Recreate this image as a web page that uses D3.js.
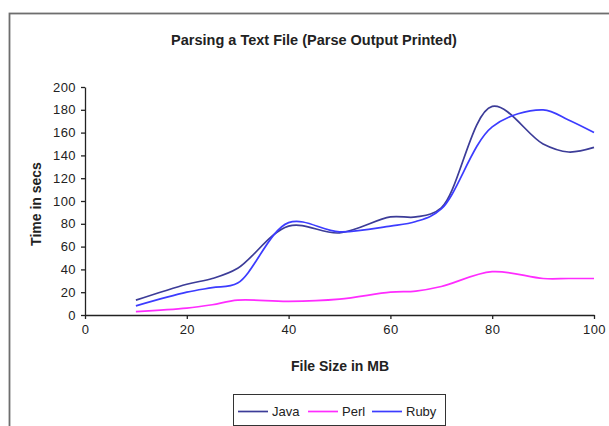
<!DOCTYPE html>
<html>
<head>
<meta charset="utf-8">
<script src="https://cdn.jsdelivr.net/npm/d3@7"></script>
<style>
  body { margin: 0; background: #fff; }
  svg { display: block; }
  text { font-family: Arial, "Liberation Sans", sans-serif; fill: #222; }
</style>
</head>
<body>
<script>
// file sizes in MB
var sizes = [10, 20, 25, 30, 40, 50, 60, 65, 70, 80, 90, 95, 100];
// time in secs
var java = [13, 27, 32, 41, 78, 72, 86, 86, 94, 183, 150, 143, 147];
var perl = [3, 6, 9, 13, 12, 14, 20, 21, 25, 38, 32, 32, 32];
var ruby = [8, 20, 24, 28, 81, 73, 78, 82, 93, 165, 180, 171, 160];

var seriesNames = ['Java', 'Perl', 'Ruby'];
var seriesColors = ['#3c3c98', '#ff2cff', '#3c3cff'];
var xTicks = [0, 20, 40, 60, 80, 100];
var yTicks = [0, 20, 40, 60, 80, 100, 120, 140, 160, 180, 200];

var width = 609;
var height = 426;

var svg = d3.select('body').append('svg')
            .attr('width', width)
            .attr('height', height);

// chart area frame (runs off the right and bottom edge)
svg.append('rect')
   .attr('x', 9.5).attr('y', 13.5)
   .attr('width', 700).attr('height', 500)
   .attr('fill', '#fff')
   .attr('stroke', '#6e6e6e')
   .attr('stroke-width', 1.8);

var x = d3.scaleLinear().domain([0, 100]).range([85, 594]);
var y = d3.scaleLinear().domain([0, 200]).range([315, 87]);

var xAxis = d3.axisBottom(x).tickValues(xTicks).tickSize(4).tickPadding(6).tickSizeOuter(0);
var yAxis = d3.axisLeft(y).tickValues(yTicks).tickSize(4).tickPadding(5).tickSizeOuter(0);

var gx = svg.append('g').attr('transform', 'translate(0,315)').call(xAxis);
var gy = svg.append('g').attr('transform', 'translate(85,0)').call(yAxis);

[gx, gy].forEach(function(g) {
  g.selectAll('path, line').attr('stroke', '#222').attr('stroke-width', 1.3);
  g.selectAll('text')
   .style('font-size', '13px')
   .style('letter-spacing', '0.4px')
   .attr('fill', '#333');
});

var data = [java, perl, ruby];

var line = d3.line()
             .x(function(d, i) { return x(sizes[i]); })
             .y(function(d) { return y(d); })
             .curve(d3.curveCatmullRom.alpha(0.5));

svg.append('g').selectAll('path')
   .data(data)
   .join('path')
   .attr('d', function(d) { return line(d); })
   .attr('fill', 'none')
   .attr('stroke', function(d, i) { return seriesColors[i]; })
   .attr('stroke-width', 1.7);

// titles
svg.append('text')
   .attr('x', 314).attr('y', 45)
   .attr('text-anchor', 'middle')
   .style('font-size', '14.5px').style('font-weight', 'bold')
   .text('Parsing a Text File (Parse Output Printed)');

svg.append('text')
   .attr('x', 340).attr('y', 371)
   .attr('text-anchor', 'middle')
   .style('font-size', '14px').style('font-weight', 'bold')
   .text('File Size in MB');

svg.append('text')
   .attr('transform', 'translate(41,204) rotate(-90)')
   .attr('text-anchor', 'middle')
   .style('font-size', '14px').style('font-weight', 'bold')
   .text('Time in secs');

// legend
var legend = svg.append('g');
legend.append('rect')
      .attr('x', 233.5).attr('y', 394.5)
      .attr('width', 212).attr('height', 31)
      .attr('fill', '#fff')
      .attr('stroke', '#333').attr('stroke-width', 1);

var legendX = [238, 308, 372];
seriesNames.forEach(function(name, i) {
  legend.append('line')
        .attr('x1', legendX[i]).attr('x2', legendX[i] + 30)
        .attr('y1', 411.5).attr('y2', 411.5)
        .attr('stroke', seriesColors[i]).attr('stroke-width', 1.7);
  legend.append('text')
        .attr('x', legendX[i] + 34).attr('y', 416)
        .style('font-size', '13px')
        .text(name);
});
</script>
</body>
</html>
